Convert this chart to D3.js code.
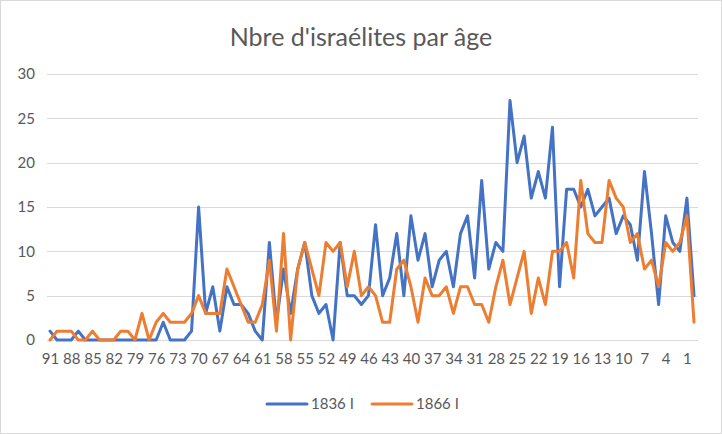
<!DOCTYPE html>
<html>
<head>
<meta charset="utf-8">
<script src="https://cdn.jsdelivr.net/npm/d3@7"></script>
<style>
  body { margin: 0; background: #fff; }
  svg { display: block; }
  text { font-family: Lato, "Liberation Sans", sans-serif; fill: #595959; }
</style>
</head>
<body>
<svg id="chart" width="722" height="434"></svg>
<script>
// Ages from 91 down to 0
const ages = d3.range(91, -1, -1);

// Number of israelites per age, 1836
const values1836 = [
  1, 0, 0, 0, 1, 0, 0, 0, 0, 0, 0, 0, 0, 0, 0, 0, 2, 0, 0, 0,
  1, 15, 3, 6, 1, 6, 4, 4, 3, 1, 0, 11, 2, 8, 3, 8, 11, 5, 3, 4,
  0, 11, 5, 5, 4, 5, 13, 5, 7, 12, 5, 14, 9, 12, 6, 9, 10, 6, 12, 14,
  7, 18, 8, 11, 10, 27, 20, 23, 16, 19, 16, 24, 6, 17, 17, 15, 17, 14, 15, 16,
  12, 14, 13, 9, 19, 12, 4, 14, 11, 10, 16, 5
];

// Number of israelites per age, 1866
const values1866 = [
  0, 1, 1, 1, 0, 0, 1, 0, 0, 0, 1, 1, 0, 3, 0, 2, 3, 2, 2, 2,
  3, 5, 3, 3, 3, 8, 6, 4, 2, 2, 4, 9, 1, 12, 0, 8, 11, 8, 5, 11,
  10, 11, 6, 10, 5, 6, 5, 2, 2, 8, 9, 6, 2, 7, 5, 5, 6, 3, 6, 6,
  4, 4, 2, 6, 9, 4, 7, 10, 3, 7, 4, 10, 10, 11, 7, 18, 12, 11, 11, 18,
  16, 15, 11, 12, 8, 9, 6, 11, 10, 11, 14, 2
];

const seriesNames = ['1836 I', '1866 I'];
const seriesColors = ['#4472C4', '#ED7D31'];
const yTicks = [0, 5, 10, 15, 20, 25, 30];

const svg = d3.select('#chart');

// Chart border
svg.append('rect')
  .attr('x', 0.5).attr('y', 0.5)
  .attr('width', 721).attr('height', 433)
  .attr('fill', '#fff')
  .attr('stroke', '#d9d9d9');

// Title
svg.append('text')
  .attr('x', 361).attr('y', 46)
  .attr('text-anchor', 'middle')
  .attr('font-size', 25)
  .text("Nbre d'israélites par âge");

// Scales
const x = d3.scalePoint()
  .domain(ages)
  .range([50, 694]);

const y = d3.scaleLinear()
  .domain([0, 30])
  .range([340, 74]);

// Gridlines
svg.append('g')
  .selectAll('line')
  .data(yTicks)
  .enter().append('line')
  .attr('x1', 47).attr('x2', 698)
  .attr('y1', d => Math.round(y(d)) + 0.5)
  .attr('y2', d => Math.round(y(d)) + 0.5)
  .attr('stroke', '#d9d9d9')
  .attr('stroke-width', 1);

// Y axis labels
const yAxis = svg.append('g')
  .attr('transform', 'translate(35,0)')
  .call(d3.axisLeft(y).tickValues(yTicks).tickSize(0).tickPadding(0));
yAxis.select('.domain').remove();
yAxis.selectAll('text')
  .attr('font-size', 15)
  .attr('font-family', 'Lato, "Liberation Sans", sans-serif')
  .attr('fill', '#595959');

// X axis labels, every third age
const xAxis = svg.append('g')
  .attr('transform', 'translate(0,353)')
  .call(d3.axisBottom(x)
    .tickValues(ages.filter((d, i) => i % 3 === 0))
    .tickSize(0).tickPadding(0));
xAxis.select('.domain').remove();
xAxis.selectAll('text')
  .attr('font-size', 15)
  .attr('font-family', 'Lato, "Liberation Sans", sans-serif')
  .attr('fill', '#595959');

// Lines
const line = d3.line()
  .x((d, i) => x(ages[i]))
  .y(d => y(d));

[values1836, values1866].forEach((vals, k) => {
  svg.append('path')
    .datum(vals)
    .attr('d', line)
    .attr('fill', 'none')
    .attr('stroke', seriesColors[k])
    .attr('stroke-width', 3)
    .attr('stroke-linejoin', 'round')
    .attr('stroke-linecap', 'round');
});

// Legend
const legendX = [267, 372];
seriesNames.forEach((name, k) => {
  const lg = svg.append('g').attr('transform', `translate(${legendX[k]},404)`);
  lg.append('line')
    .attr('x1', 0).attr('x2', 40)
    .attr('y1', 0).attr('y2', 0)
    .attr('stroke', seriesColors[k])
    .attr('stroke-width', 3)
    .attr('stroke-linecap', 'round');
  lg.append('text')
    .attr('x', 44).attr('y', 5)
    .attr('font-size', 15)
    .text(name);
});
</script>
</body>
</html>
